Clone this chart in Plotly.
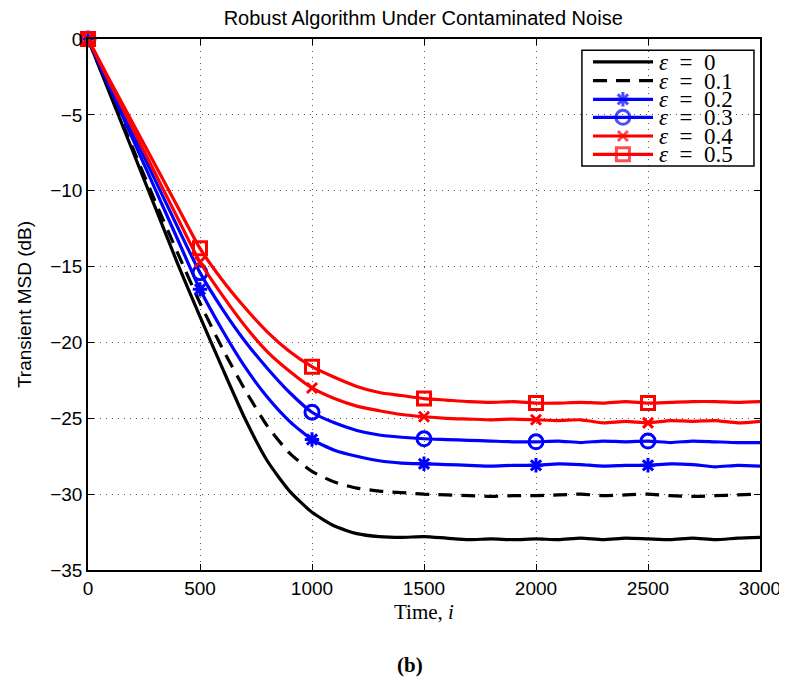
import plotly.graph_objects as go

time_i = [0, 100, 200, 300, 400, 500, 600, 700, 800, 900, 1000, 1100, 1200, 1300, 1400,
          1500, 1600, 1700, 1800, 1900, 2000, 2100, 2200, 2300, 2400, 2500, 2600, 2700,
          2800, 2900, 3000]

eps_0 = [0, -3.7, -7.4, -11.1, -14.8, -18.3, -21.7, -25.0, -27.8, -29.8, -31.2, -32.1, -32.6,
         -32.8, -32.85, -32.8, -32.9, -33.0, -32.95, -33.0, -32.95, -33.0, -32.9, -33.0,
         -32.9, -32.95, -33.0, -32.9, -33.0, -32.9, -32.85]
eps_01 = [0, -3.6, -7.2, -10.7, -14.1, -17.4, -20.4, -23.1, -25.5, -27.3, -28.5, -29.2, -29.6,
          -29.8, -29.9, -30.0, -30.05, -30.1, -30.15, -30.1, -30.1, -30.05, -30.0, -30.1,
          -30.05, -30.0, -30.1, -30.15, -30.1, -30.05, -30.0]
eps_02 = [0, -3.3, -6.6, -9.9, -13.2, -16.5, -19.2, -21.6, -23.6, -25.2, -26.4, -27.1, -27.5,
          -27.8, -27.95, -28.0, -28.05, -28.1, -28.15, -28.1, -28.1, -28.0, -28.05, -28.15,
          -28.1, -28.1, -28.0, -28.05, -28.2, -28.1, -28.15]
eps_03 = [0, -3.1, -6.2, -9.3, -12.4, -15.4, -17.8, -19.9, -21.7, -23.3, -24.6, -25.3, -25.8,
          -26.1, -26.25, -26.35, -26.4, -26.45, -26.5, -26.55, -26.55, -26.5, -26.6, -26.5,
          -26.55, -26.5, -26.6, -26.5, -26.55, -26.6, -26.6]
eps_04 = [0, -2.95, -5.9, -8.85, -11.8, -14.7, -16.9, -18.9, -20.6, -21.9, -23.0, -23.7, -24.2,
          -24.5, -24.75, -24.9, -25.0, -25.05, -25.1, -25.05, -25.1, -25.15, -25.1, -25.3,
          -25.2, -25.3, -25.15, -25.2, -25.15, -25.3, -25.2]
eps_05 = [0, -2.8, -5.55, -8.3, -11.05, -13.8, -15.9, -17.7, -19.3, -20.6, -21.6, -22.3, -22.9,
          -23.3, -23.5, -23.7, -23.8, -23.9, -23.95, -23.9, -24.0, -24.0, -23.95, -24.0,
          -23.9, -24.0, -23.95, -23.9, -23.9, -23.95, -23.9]

marker_idx = [0, 5, 10, 15, 20, 25]
labels = ["0", "0.1", "0.2", "0.3", "0.4", "0.5"]
x_ticks = [0, 500, 1000, 1500, 2000, 2500, 3000]
y_ticks = [0, -5, -10, -15, -20, -25, -30, -35]
x_range = [0, 3000]
y_range = [-35, 0]

series = [eps_0, eps_01, eps_02, eps_03, eps_04, eps_05]
colors = ["black", "black", "#0000FF", "#0000FF", "#FF0000", "#FF0000"]
dashes = ["solid", "14px,9px", "solid", "solid", "solid", "solid"]
symbols = [None, None, "asterisk-open", "circle-open", "x-thin-open", "square-open"]
msizes = [0, 0, 12, 14, 10, 13]

SERIF = "Liberation Serif, DejaVu Serif"
SANS = "Liberation Sans, Arial"

fig = go.Figure()
for s, c, d, sym, ms in zip(series, colors, dashes, symbols, msizes):
    fig.add_trace(go.Scatter(
        x=time_i, y=s, mode="lines",
        line=dict(color=c, width=3.2, dash=d, shape="spline", smoothing=0.6),
        showlegend=False, hoverinfo="skip"))
    if sym is not None:
        fig.add_trace(go.Scatter(
            x=[time_i[k] for k in marker_idx], y=[s[k] for k in marker_idx], mode="markers",
            marker=dict(symbol=sym, size=ms, color=c, line=dict(color=c, width=3)),
            showlegend=False, cliponaxis=False, hoverinfo="skip"))

# ---- manual legend (box, samples and labels in paper coordinates) ----
leg_x0, leg_x1, leg_top, leg_bot = 0.735, 0.991, 0.979, 0.761
samp_x0, samp_x1, samp_mid, text_x = 0.7515, 0.8408, 0.796, 0.8467
row_y = [0.957, 0.9215, 0.8864, 0.8525, 0.8173, 0.7829]

shapes = [dict(type="rect", xref="paper", yref="paper", x0=leg_x0, x1=leg_x1, y0=leg_bot, y1=leg_top,
               line=dict(color="black", width=1.5), fillcolor="white", layer="between")]
annotations = []
for lab, c, d, ry in zip(labels, colors, dashes, row_y):
    shapes.append(dict(type="line", xref="paper", yref="paper", x0=samp_x0, x1=samp_x1, y0=ry, y1=ry,
                       line=dict(color=c, width=3.2, dash=d), layer="between"))
    annotations.append(dict(text="<i>ε</i>\u2002=\u2002" + lab, xref="paper", yref="paper", x=text_x,
                            y=ry, xanchor="left", yanchor="middle", showarrow=False, height=18,
                            valign="middle",
                            font=dict(family=SERIF, size=23, color="black")))

# legend sample markers, placed on the main axes at the legend row positions
leg_sym = [(sym, c, ms, ry) for sym, c, ms, ry in zip(symbols, colors, msizes, row_y) if sym]
fig.add_trace(go.Scatter(
    x=[x_range[0] + samp_mid * (x_range[1] - x_range[0])] * len(leg_sym),
    y=[y_range[0] + r[3] * (y_range[1] - y_range[0]) for r in leg_sym], mode="markers",
    cliponaxis=False, showlegend=False, hoverinfo="skip",
    marker=dict(symbol=[r[0] for r in leg_sym], size=[r[2] for r in leg_sym],
                color=[r[1] for r in leg_sym], line=dict(color=[r[1] for r in leg_sym], width=3))))

annotations += [
    dict(text="Time, <i>i</i>", xref="paper", yref="paper", x=0.5, y=-0.079, xanchor="center",
         yanchor="middle", showarrow=False, font=dict(family=SERIF, size=21, color="black")),
    dict(text="Transient MSD (dB)", xref="paper", yref="paper", x=-0.0952, y=0.499, textangle=-90,
         xanchor="center", yanchor="middle", showarrow=False, font=dict(family=SANS, size=19, color="black")),
    dict(text="<b>(b)</b>", xref="paper", yref="paper", x=0.479, y=-0.179, xanchor="center",
         yanchor="middle", showarrow=False, font=dict(family=SERIF, size=21, color="black")),
]

axis_common = dict(ticks="inside", ticklen=6, tickcolor="black", showline=True, linecolor="black",
                   linewidth=1.5, mirror="ticks", showgrid=True, gridcolor="rgba(0,0,0,0.65)",
                   griddash="1px,5px", gridwidth=1, zeroline=False, automargin=False,
                   tickfont=dict(family=SANS, size=19, color="black"))

fig.update_layout(
    width=779, height=681,
    margin=dict(l=80, r=27, t=31, b=119, autoexpand=False),
    paper_bgcolor="white", plot_bgcolor="white",
    title=dict(text="Robust Algorithm Under Contaminated Noise", x=0.533, xanchor="center",
               y=0.986, yanchor="middle", automargin=False,
               font=dict(family=SANS, size=20, color="black")),
    font=dict(family=SANS, color="black"),
    xaxis=dict(range=x_range, tickvals=x_ticks, **axis_common),
    yaxis=dict(range=y_range, tickvals=y_ticks, **axis_common),
    shapes=shapes,
    annotations=annotations,
    showlegend=False,
)

fig.write_html("out.html")
